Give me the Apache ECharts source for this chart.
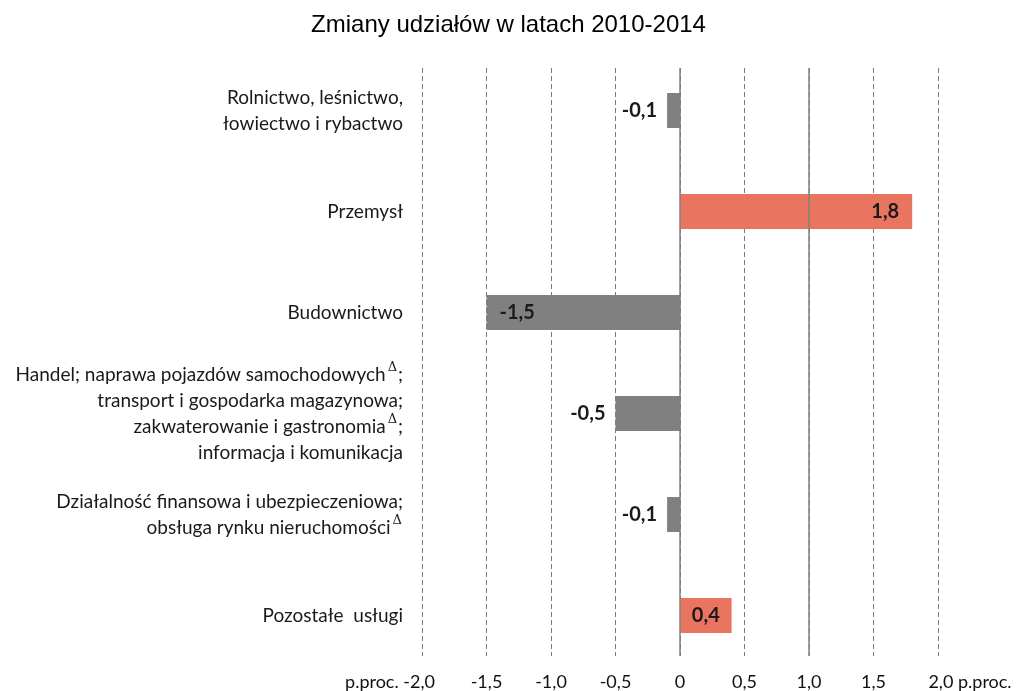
<!DOCTYPE html>
<html>
<head>
<meta charset="utf-8">
<script src="https://cdn.jsdelivr.net/npm/echarts@6/dist/echarts.min.js"></script>
<style>
  html, body { margin: 0; padding: 0; background: #fff; }
  #chart { width: 1017px; height: 691px; }
</style>
</head>
<body>
<div id="chart"></div>
<script>
// dane z wykresu (od góry do dołu)
var categories = [
    'Rolnictwo, leśnictwo,\nłowiectwo i rybactwo',
    'Przemysł',
    'Budownictwo',
    'Handel; naprawa pojazdów samochodowychΔ;\ntransport i gospodarka magazynowa;\nzakwaterowanie i gastronomiaΔ;\ninformacja i komunikacja',
    'Działalność finansowa i ubezpieczeniowa;\nobsługa rynku nieruchomościΔ',
    'Pozostałe  usługi'
];
var values = [-0.1, 1.8, -1.5, -0.5, -0.1, 0.4];
var tickUnit = 'p.proc.';

var chartDom = document.getElementById('chart');
var myChart = echarts.init(chartDom);

var fmt = function (v) {
    if (v === 0) return '0';
    return v.toFixed(1).replace('.', ',');
};

// pozycja etykiety zależna od wartości
var labelPos = function (v) {
    if (v < 0) return Math.abs(v) > 1 ? 'insideLeft' : 'left';
    return v > 1 ? 'insideRight' : 'inside';
};

var barData = values.map(function (v) {
    return {
        value: v,
        itemStyle: { color: v >= 0 ? '#e9745f' : '#808080' },
        label: {
            position: labelPos(v),
            distance: Math.abs(v) > 1 ? 13 : 10
        }
    };
});

var option = {
    animation: false,
    title: {
        text: 'Zmiany udziałów w latach 2010-2014',
        left: 'center',
        top: 8,
        textStyle: {
            fontFamily: 'Liberation Sans',
            fontSize: 24,
            fontWeight: 'normal',
            color: '#000'
        }
    },
    grid: [
        { left: 422, right: 79, top: 60, bottom: 25 },
        { left: 422, right: 79, top: 68, bottom: 34 }
    ],
    xAxis: [
        {
            gridIndex: 0,
            type: 'value',
            min: -2, max: 2, interval: 0.5,
            show: false
        },
        {
            gridIndex: 1,
            type: 'value',
            min: -2, max: 2, interval: 0.5,
            axisLine: { show: false },
            axisTick: { show: false },
            splitLine: {
                show: true,
                lineStyle: { color: '#7a7a7a', width: 1, type: [5, 3] }
            },
            axisLabel: {
                margin: 17,
                fontFamily: 'Lato',
                fontSize: 18,
                color: '#111',
                formatter: function (v) {
                    if (v === -2) return '{u|' + tickUnit + ' }' + fmt(v) + '{p|}';
                    if (v === 2) return '{p|}' + fmt(v) + '{u| ' + tickUnit + '}';
                    return fmt(v);
                },
                rich: {
                    u: { fontFamily: 'Lato', fontSize: 18, color: '#111' },
                    p: { width: 64 }
                }
            }
        }
    ],
    yAxis: [
        {
            gridIndex: 0,
            type: 'category',
            inverse: true,
            data: categories,
            axisLine: { show: false },
            axisTick: { show: false },
            axisLabel: {
                margin: 19,
                fontFamily: 'Lato',
                fontSize: 19,
                lineHeight: 26,
                color: '#1a1a1a',
                formatter: function (v) {
                    return v.replace(/Δ/g, '{d|Δ}');
                },
                rich: {
                    d: {
                        fontFamily: 'DejaVu Serif',
                        fontSize: 13,
                        lineHeight: 14,
                        verticalAlign: 'top',
                        color: '#1a1a1a',
                        padding: [0, 1, 0, 2]
                    }
                }
            }
        },
        {
            gridIndex: 1,
            type: 'value',
            min: 0, max: 1,
            show: false
        }
    ],
    series: [
        {
            name: 'Zmiany udziałów',
            type: 'bar',
            xAxisIndex: 0,
            yAxisIndex: 0,
            barWidth: 35,
            data: barData,
            label: {
                show: true,
                fontFamily: 'Lato',
                fontSize: 20,
                fontWeight: 'bold',
                color: '#1a1a1a',
                formatter: function (p) {
                    return fmt(p.value);
                }
            }
        },
        {
            name: 'osie',
            type: 'line',
            xAxisIndex: 1,
            yAxisIndex: 1,
            data: [],
            silent: true,
            markLine: {
                silent: true,
                symbol: 'none',
                label: { show: false },
                lineStyle: { color: '#808080', width: 1.5, type: 'solid' },
                data: [{ xAxis: 0 }, { xAxis: 1 }]
            }
        }
    ]
};

window.addEventListener('resize', function () {
    myChart.resize();
});
myChart.setOption(option);
</script>
</body>
</html>
